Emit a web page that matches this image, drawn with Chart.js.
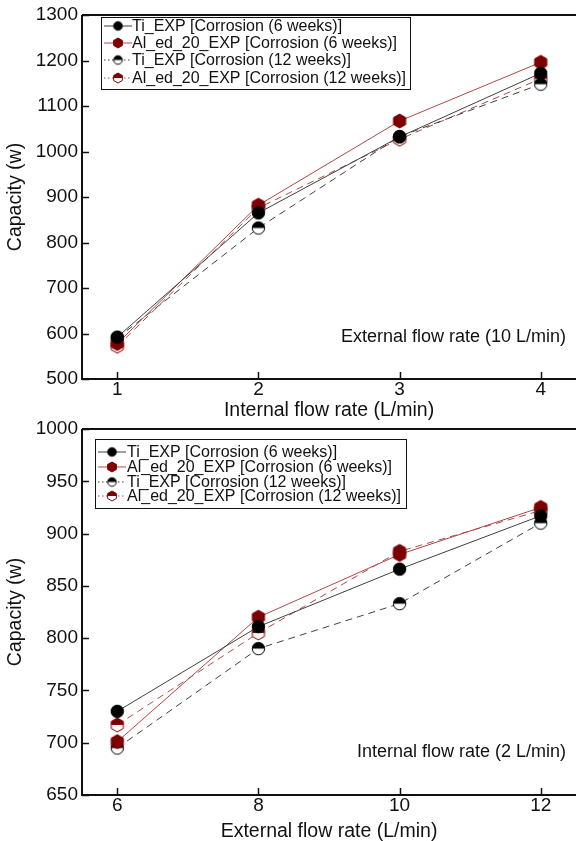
<!DOCTYPE html>
<html>
<head>
<meta charset="utf-8">
<script src="https://cdn.jsdelivr.net/npm/chart.js@4.4.1/dist/chart.umd.min.js"></script>
<style>
  body { margin: 0; background: #fff; width: 576px; height: 841px; overflow: hidden; }
  .panel { position: absolute; left: 0; width: 576px; }
</style>
</head>
<body>
<div class="panel" style="top:0;height:420px"><canvas id="topChart"></canvas></div>
<div class="panel" style="top:420px;height:421px"><canvas id="bottomChart"></canvas></div>
<script>
// top panel: capacity vs internal flow rate (external fixed at 10 L/min)
const internalFlow = [1, 2, 3, 4];
const topTi6 = [592, 865, 1032, 1172];
const topAl6 = [578, 882, 1067, 1196];
const topTi12 = [590, 832, 1033, 1148];
const topAl12 = [572, 876, 1027, 1160];
const topYTicks = [500, 600, 700, 800, 900, 1000, 1100, 1200, 1300];

// bottom panel: capacity vs external flow rate (internal fixed at 2 L/min)
const externalFlow = [6, 8, 10, 12];
const botTi6 = [730, 811, 866, 917];
const botAl6 = [701, 820, 880, 925];
const botTi12 = [695, 790, 833, 910];
const botAl12 = [717, 805, 883, 922];
const botYTicks = [650, 700, 750, 800, 850, 900, 950, 1000];

const seriesNames = [
  'Ti_EXP [Corrosion (6 weeks)]',
  'Al_ed_20_EXP [Corrosion (6 weeks)]',
  'Ti_EXP [Corrosion (12 weeks)]',
  'Al_ed_20_EXP [Corrosion (12 weeks)]'
];

const FONT = 'Liberation Sans, Arial, sans-serif';
const DARKRED = '#7d0000';

function makeMarker(shape, topColor, bottomColor, edge, r) {
  const c = document.createElement('canvas');
  const s = Math.ceil(r * 2 + 4);
  c.width = c.height = s;
  const g = c.getContext('2d');
  const cx = s / 2, cy = s / 2;
  const path = () => {
    g.beginPath();
    if (shape === 'circle') {
      g.arc(cx, cy, r, 0, Math.PI * 2);
    } else {
      for (let i = 0; i < 6; i++) {
        const a = -Math.PI / 2 + i * Math.PI / 3;
        const px = cx + r * Math.cos(a), py = cy + r * Math.sin(a);
        if (i) g.lineTo(px, py); else g.moveTo(px, py);
      }
      g.closePath();
    }
  };
  path(); g.fillStyle = bottomColor; g.fill();
  g.save(); g.beginPath(); g.rect(0, 0, s, cy); g.clip();
  path(); g.fillStyle = topColor; g.fill(); g.restore();
  path(); g.lineWidth = 1; g.strokeStyle = edge; g.stroke();
  return c;
}

function markers(r, rh) {
  return [
    makeMarker('circle', '#000', '#000', '#000', r),
    makeMarker('hex', DARKRED, DARKRED, DARKRED, rh),
    makeMarker('circle', '#000', '#fff', '#000', r),
    makeMarker('hex', DARKRED, '#fff', DARKRED, rh)
  ];
}
const plotMarks = markers(6.2, 7);
const legendMarks = markers(4.3, 5);
const lineColors = ['#404040', '#b04848', '#404040', '#b04848'];
const dashes = [[], [], [7, 5], [7, 5]];

function buildDatasets(xs, series) {
  return series.map((ys, i) => ({
    label: seriesNames[i],
    data: xs.map((x, k) => ({ x: x, y: ys[k] })),
    borderColor: lineColors[i],
    borderWidth: 1,
    borderDash: dashes[i],
    pointStyle: plotMarks[i],
    pointRadius: 7,
    pointHoverRadius: 7,
    tension: 0,
    fill: false
  }));
}

// frame, inward ticks, legend box and note text
const decor = {
  id: 'decor',
  afterDraw(chart, args, opts) {
    const ctx = chart.ctx;
    const a = chart.chartArea;
    const xs = chart.scales.x, ys = chart.scales.y;
    ctx.save();
    ctx.strokeStyle = '#111';
    ctx.lineWidth = 2;
    ctx.beginPath();
    ctx.moveTo(a.left, a.top); ctx.lineTo(a.right, a.top);
    ctx.moveTo(a.left, a.top); ctx.lineTo(a.left, a.bottom); ctx.lineTo(a.right, a.bottom);
    ctx.stroke();
    ctx.lineWidth = 1.5;
    ctx.beginPath();
    ys.ticks.forEach(t => {
      const p = Math.round(ys.getPixelForValue(t.value)) + 0.5;
      ctx.moveTo(a.left, p); ctx.lineTo(a.left + 7, p);
    });
    xs.ticks.forEach(t => {
      const p = Math.round(xs.getPixelForValue(t.value)) + 0.5;
      ctx.moveTo(p, a.bottom); ctx.lineTo(p, a.bottom - 7);
    });
    ctx.stroke();

    // note
    ctx.fillStyle = '#111';
    ctx.font = '18px ' + FONT;
    ctx.textAlign = 'right';
    ctx.textBaseline = 'alphabetic';
    ctx.fillText(opts.note, opts.noteX, opts.noteY);

    // legend
    const L = opts.legend;
    ctx.fillStyle = '#fff';
    ctx.fillRect(L.x, L.y, L.w, L.h);
    ctx.strokeStyle = '#111';
    ctx.lineWidth = 1;
    ctx.strokeRect(L.x + 0.5, L.y + 0.5, L.w, L.h);
    ctx.font = '16px ' + FONT;
    ctx.textAlign = 'left';
    ctx.textBaseline = 'middle';
    chart.data.datasets.forEach((ds, i) => {
      const cy = L.rowY[i];
      ctx.strokeStyle = lineColors[i];
      ctx.setLineDash(i >= 2 ? [1.5, 2.5] : []);
      ctx.beginPath();
      ctx.moveTo(L.x + 3, cy); ctx.lineTo(L.x + 3 + L.lineW, cy);
      ctx.stroke();
      ctx.setLineDash([]);
      const m = legendMarks[i];
      ctx.drawImage(m, L.x + 3 + L.lineW / 2 - m.width / 2, cy - m.height / 2);
      ctx.fillStyle = '#111';
      ctx.fillText(ds.label, L.x + L.textX, cy + 1);
    });
    ctx.restore();
  }
};

function noPad(s) { s.paddingLeft = 0; s.paddingRight = 0; s.paddingTop = 0; s.paddingBottom = 0; }

function makeChart(id, xs, series, xTicks, yTicks, xMin, xMax, xTitle, xAxisH, padTop, decorOpts) {
  return new Chart(document.getElementById(id), {
    type: 'line',
    data: { datasets: buildDatasets(xs, series) },
    options: {
      responsive: true,
      maintainAspectRatio: false,
      animation: false,
      layout: { autoPadding: false, padding: { top: padTop, right: 0, left: 0, bottom: 0 } },
      plugins: { legend: { display: false }, tooltip: { enabled: false }, decor: decorOpts },
      scales: {
        x: {
          type: 'linear',
          min: xMin, max: xMax,
          afterBuildTicks: s => { s.ticks = xTicks.map(v => ({ value: v })); },
          afterFit: s => { s.height = xAxisH; noPad(s); },
          grid: { display: false, drawTicks: false },
          border: { display: false },
          ticks: { color: '#111', font: { family: FONT, size: 19 }, padding: -1, callback: v => String(v) },
          title: { display: true, text: xTitle, color: '#111', font: { family: FONT, size: 19.5, lineHeight: 1 }, padding: { top: 0, bottom: 0 } }
        },
        y: {
          min: yTicks[0], max: yTicks[yTicks.length - 1],
          afterBuildTicks: s => { s.ticks = yTicks.map(v => ({ value: v })); },
          afterFit: s => { s.width = 82; noPad(s); },
          grid: { display: false, drawTicks: false },
          border: { display: false },
          ticks: { color: '#111', font: { family: FONT, size: 19 }, padding: 4, callback: v => String(v) },
          title: { display: true, text: 'Capacity (w)', color: '#111', font: { family: FONT, size: 19.5, lineHeight: 1 }, padding: { top: 6, bottom: 0 } }
        }
      }
    },
    plugins: [decor]
  });
}

makeChart('topChart', internalFlow, [topTi6, topAl6, topTi12, topAl12], internalFlow, topYTicks,
  0.75, 4.25, 'Internal flow rate (L/min)', 41, 15, {
    note: 'External flow rate (10 L/min)', noteX: 566, noteY: 342,
    legend: { x: 101, y: 17, w: 309, h: 72, rowY: [26, 43, 60, 78], lineW: 28, textX: 31 }
  });

makeChart('bottomChart', externalFlow, [botTi6, botAl6, botTi12, botAl12], externalFlow, botYTicks,
  5.5, 12.5, 'External flow rate (L/min)', 46, 9, {
    note: 'Internal flow rate (2 L/min)', noteX: 566, noteY: 337,
    legend: { x: 95, y: 19, w: 311, h: 69, rowY: [32, 47, 62, 76], lineW: 28, textX: 32 }
  });
</script>
</body>
</html>
